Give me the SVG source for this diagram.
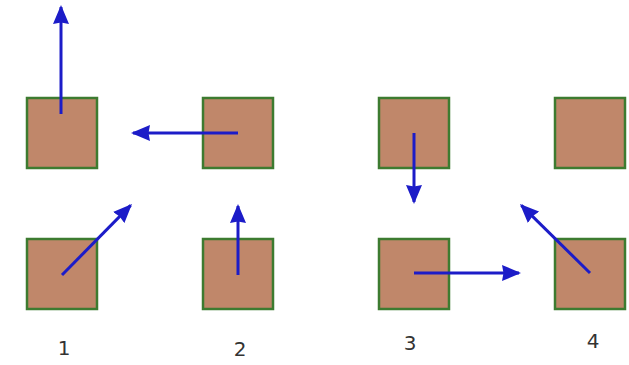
<svg xmlns="http://www.w3.org/2000/svg" width="629" height="365" viewBox="0 0 629 365">
<style>
.sq{fill:#c0876a;stroke:#3d7b30;stroke-width:2.5}
.ar{stroke:#1c1cc8;stroke-width:3;fill:none;marker-end:url(#ah)}
.lb{font-family:"DejaVu Sans",sans-serif;font-size:20px;fill:#333;text-anchor:middle}
</style>
<defs>
<marker id="ah" viewBox="0 0 19 16" refX="17" refY="8" markerWidth="19" markerHeight="16" markerUnits="userSpaceOnUse" orient="auto">
<path d="M0,0 L19,8 L0,16 L1.5,8 Z" fill="#1c1cc8"/>
</marker>
</defs>
<rect width="629" height="365" fill="#fff"/>
<g id="node-1a"><rect class="sq" x="27" y="98" width="70" height="70"/></g>
<g id="node-1b"><rect class="sq" x="203" y="98" width="70" height="70"/></g>
<g id="node-1c"><rect class="sq" x="27" y="239" width="70" height="70"/></g>
<g id="node-1d"><rect class="sq" x="203" y="239" width="70" height="70"/></g>
<g id="node-2a"><rect class="sq" x="379" y="98" width="70" height="70"/></g>
<g id="node-2b"><rect class="sq" x="555" y="98" width="70" height="70"/></g>
<g id="node-2c"><rect class="sq" x="379" y="239" width="70" height="70"/></g>
<g id="node-2d"><rect class="sq" x="555" y="239" width="70" height="70"/></g>
<g id="connectors">
<line class="ar" x1="61" y1="114" x2="61" y2="7"/>
<line class="ar" x1="238" y1="133" x2="133" y2="133"/>
<line class="ar" x1="62" y1="275" x2="130.6" y2="205.4"/>
<line class="ar" x1="238" y1="275" x2="238" y2="206"/>
<line class="ar" x1="414" y1="133" x2="414" y2="202"/>
<line class="ar" x1="414" y1="273" x2="519" y2="273"/>
<line class="ar" x1="590" y1="273" x2="521.4" y2="205.4"/>
</g>
<g id="labels">
<text class="lb" x="64" y="355">1</text>
<text class="lb" x="240" y="356">2</text>
<text class="lb" x="410" y="350">3</text>
<text class="lb" x="593" y="348">4</text>
</g>
</svg>
